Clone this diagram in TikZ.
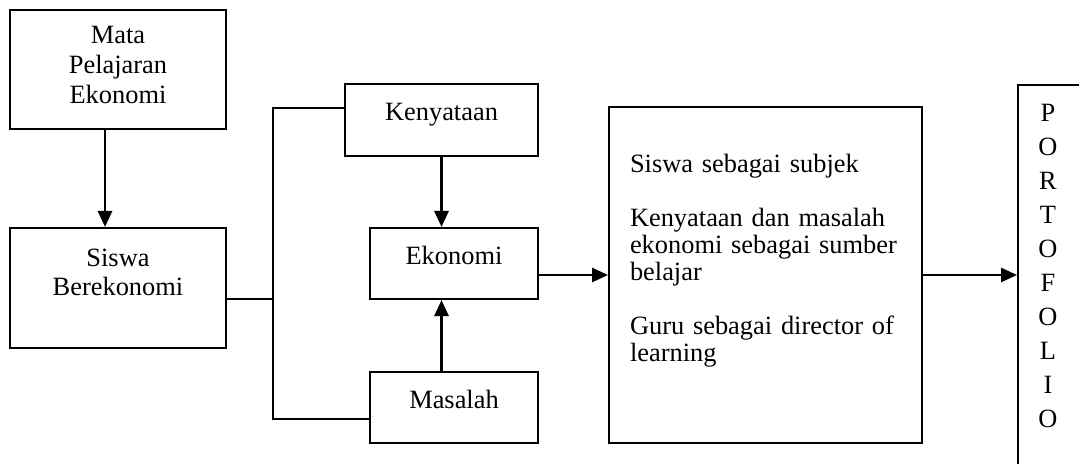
\documentclass[tikz,border=0pt]{standalone}
\usepackage{fontspec}
\setmainfont{Liberation Serif}
\usetikzlibrary{arrows.meta}

\begin{document}
\begin{tikzpicture}[x=0.5pt,y=-0.5pt,
		box/.style={draw,line width=1pt,inner sep=0pt,font=\fontsize{13.2}{15}\selectfont},
		lifted/.style={text height=8pt,text depth=7.5pt},
		arr/.style={line width=1.4pt,-{Triangle[length=8pt,width=7pt]}},
		link/.style={line width=0.9pt}]
		\useasboundingbox (0,0) rectangle (1079,464);
		\node[box,align=center,minimum width=108pt,minimum height=59.5pt] (mapel) at (118,69.5) {Mata\\Pelajaran\\Ekonomi\strut};
		\node[box,align=center,font=\fontsize{13.2}{14.5}\selectfont,minimum width=108pt,minimum height=60pt] (siswa) at (118,288) {Siswa\\Berekonomi\\[-3pt]\strut};
		\node[box,lifted,minimum width=96.5pt,minimum height=36pt] (kenyataan) at (441.5,120) {Kenyataan};
		\node[box,lifted,minimum width=84pt,minimum height=35.5pt] (ekonomi) at (454,263.5) {Ekonomi};
		\node[box,lifted,minimum width=84pt,minimum height=35.5pt] (masalah) at (454,407.5) {Masalah};
		\node[box,font=\fontsize{13.2}{13.5}\selectfont,align=left,text width=135.5pt,inner xsep=10.5pt,minimum width=156.5pt,minimum height=168pt] (ciri) at (765.5,275) {Siswa sebagai subjek\\[13.5pt]Kenyataan dan masalah\\\mbox{ekonomi sebagai sumber}\\belajar\\[13.5pt]Guru sebagai director of\\learning\\\strut};
		\node[box,anchor=north west,minimum width=80pt,minimum height=200pt] (porto) at (1017,84) {};
		\node[align=center,font=\fontsize{13.2}{17}\selectfont] (portoText) at (1048,265.5) {P\\O\\R\\T\\O\\F\\O\\L\\I\\O};
		\coordinate (spine) at (273,299);
		\draw[arr] ([xshift=-6.5pt]mapel.south) -- ([xshift=-6.5pt]siswa.north);
		\draw[link] ([yshift=-5.5pt]siswa.east) -- (spine);
		\draw[link] ([yshift=6pt]kenyataan.west) -| (spine) |- ([yshift=-5.75pt]masalah.west);
		\draw[arr] (kenyataan.south) -- (kenyataan.south |- ekonomi.north);
		\draw[arr] (masalah.north -| kenyataan.south) -- (ekonomi.south -| kenyataan.south);
		\draw[arr] ([yshift=-5.75pt]ekonomi.east) -- ([yshift=-5.75pt]ekonomi.east -| ciri.west);
		\draw[arr] (ciri.east) -- (ciri.east -| porto.west);
	\end{tikzpicture}
\end{document}
